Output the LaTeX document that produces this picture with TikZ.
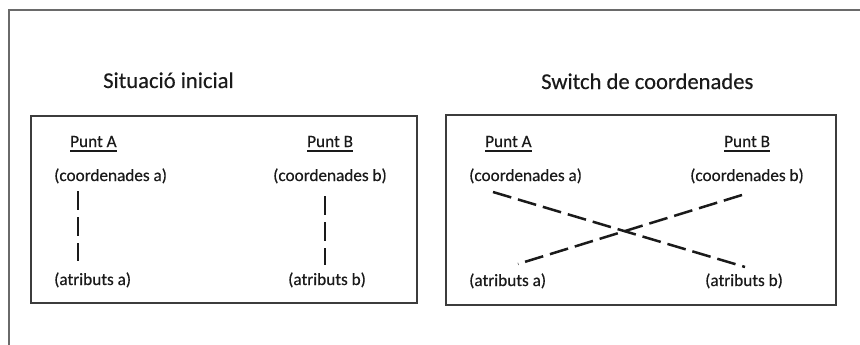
\documentclass[tikz,border=0pt]{standalone}
\usepackage{fontspec}
\setmainfont{Carlito}
\newfontfamily\inkfont{Carlito}[FakeBold=0.35]
\usetikzlibrary{calc}

\definecolor{framegray}{HTML}{6A6A6A}
\definecolor{boxgray}{HTML}{3C3C3C}
\definecolor{inktext}{HTML}{1A1A1A}

\tikzset{
  title/.style={anchor=base west, inner sep=0pt, text=inktext,
    font=\inkfont\fontsize{22.6}{25}\selectfont},
  label/.style={anchor=base west, inner sep=0pt, text=inktext,
    font=\inkfont\fontsize{17.2}{20}\selectfont},
  panel/.style={draw=boxgray, line width=1.5pt, fill=white},
  outerframe/.style={draw=framegray, line width=2pt},
  uline/.style={draw=inktext, line width=1.3pt},
  link/.style={draw=inktext, line width=2.5pt, dash pattern=on 19pt off 7pt}
}

\begin{document}
\begin{tikzpicture}[x=1pt, y=-1pt]
  \useasboundingbox (0,0) rectangle (860,345);

  % page frame (open on the right and bottom)
  \draw[outerframe] (8.5,345) -- (8.5,9.7) -- (861,9.7);

  % the two panels
  \node[panel, minimum width=386pt, minimum height=187pt] (leftpanel) at (224,209.5) {};
  \node[panel, minimum width=390pt, minimum height=190pt] (rightpanel) at (641,210) {};

  % headings
  \node[title] (t1) at (103,88) {Situació inicial};
  \node[title] (t2) at (541,89) {Switch de coordenades};

  % left panel: initial situation
  \node[label] (pa1) at (70,147) {Punt A};
  \node[label] (pb1) at (307,147) {Punt B};
  \node[label] (ca1) at (54,181) {(coordenades a)};
  \node[label] (cb1) at (273,181) {(coordenades b)};
  \node[label] (aa1) at (54,285) {(atributs a)};
  \node[label] (ab1) at (288,285) {(atributs b)};

  % right panel: coordinates swapped
  \node[label] (pa2) at (485,147) {Punt A};
  \node[label] (pb2) at (724,147) {Punt B};
  \node[label] (ca2) at (469,181) {(coordenades a)};
  \node[label] (cb2) at (690,181) {(coordenades b)};
  \node[label] (aa2) at (469,286) {(atributs a)};
  \node[label] (ab2) at (705,286) {(atributs b)};

  % underlined headings of the points
  \foreach \p in {pa1,pb1,pa2,pb2}
    \draw[uline] ($(\p.base west)+(0,4)$) -- ($(\p.base east)+(0,4)$);

  % links between coordinates and attributes
  \draw[link] ($(ca1.base west)+(24,10)$) -- ($(aa1.base west)+(24,-24)$);
  \draw[link] ($(cb1.base west)+(52,15)$) -- ($(ab1.base west)+(37,-20)$);
  \draw[link] ($(ca2.base west)+(24,11)$) -- ($(ab2.base west)+(40,-19)$);
  \draw[link] ($(cb2.base west)+(52,14)$) -- ($(aa2.base west)+(49,-22)$);
\end{tikzpicture}
\end{document}
